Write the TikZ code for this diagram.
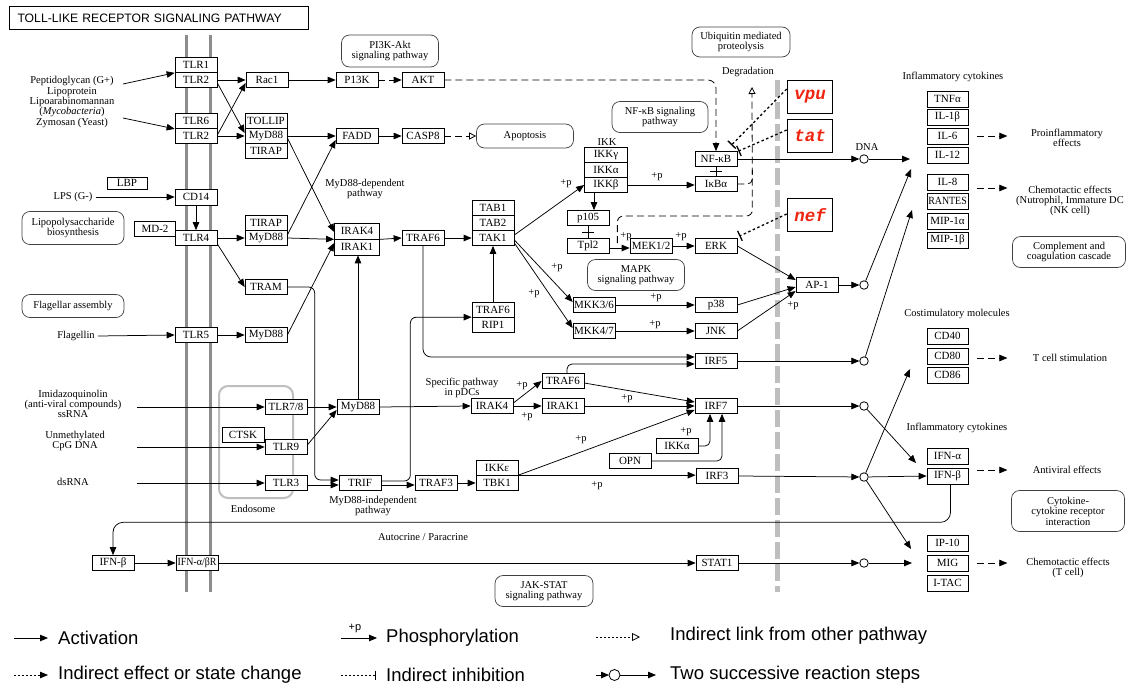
\documentclass[tikz,border=0pt]{standalone}
\usepackage{fontspec}
\usepackage{graphicx}
\setmainfont{Liberation Serif}
\newfontfamily\legendfont{Liberation Sans}
\newfontfamily\virusfont{Liberation Mono}
\usetikzlibrary{arrows.meta}
\definecolor{virusred}{RGB}{238,36,16}
\definecolor{membranegray}{RGB}{140,140,140}
\definecolor{barriergray}{RGB}{190,190,190}
\newcommand{\genefont}{\fontsize{11}{11}\selectfont}
\newcommand{\labelfont}{\fontsize{10.5}{10.4}\selectfont}
\newcommand{\narrow}[1]{\scalebox{0.9}[1]{#1}}

\begin{document}
\begin{tikzpicture}[x=1pt, y=-1pt, every node/.style={font=\labelfont, align=center},
    gene/.style={draw, fill=white, line width=0.7pt, minimum width=42pt, minimum height=15pt, inner sep=0pt, font=\genefont},
    cyto/.style={gene, minimum width=41pt, minimum height=16pt},
    pathbox/.style={draw=black!75, fill=white, line width=0.7pt, rounded corners=8pt, inner sep=0pt},
    virus/.style={draw, line width=1.6pt, minimum width=45pt, minimum height=33pt, inner sep=0pt, text=virusred, font=\virusfont\fontsize{17.5}{17.5}\selectfont\bfseries\itshape},
    twostep/.style={circle, draw, fill=white, line width=0.8pt, minimum size=8.5pt, inner sep=0pt},
    act/.style={line width=0.75pt, -{Triangle[length=8pt,width=6.5pt]}},
    indir/.style={act, dash pattern=on 7pt off 4pt},
    link/.style={line width=0.8pt, dash pattern=on 7pt off 4pt, -{Triangle[open,length=7pt,width=7pt]}},
    inhib/.style={line width=1.3pt, dash pattern=on 2.5pt off 2.5pt, -{Bar[width=11pt]}},
    dashline/.style={line width=0.8pt, dash pattern=on 7pt off 4pt},
    legendtext/.style={anchor=west, inner sep=0pt, font=\legendfont\fontsize{18.5}{18.5}\selectfont}]

\useasboundingbox (0,0) rectangle (1131,688);

% membrane, endosome and nuclear border
\draw[membranegray, line width=3pt] (186,35) -- (186,592);
\draw[membranegray, line width=3pt] (210,35) -- (210,592);
\draw[barriergray, line width=5pt, dash pattern=on 17pt off 5pt] (777,80) -- (777,592);
\draw[barriergray, line width=2pt, rounded corners=9pt] (219,386) rectangle (293,498);

\node[draw, line width=1pt, anchor=north west, minimum width=299pt, minimum height=23pt,
      inner xsep=8pt, text width=283pt, align=left, font=\legendfont\fontsize{12.2}{12.2}\selectfont] (title) at (9,6) {TOLL-LIKE RECEPTOR SIGNALING PATHWAY};

% linked pathways
\node[pathbox, minimum width=97pt, minimum height=32pt] (pikpath) at (390,51) {PI3K-Akt\\signaling pathway};
\node[pathbox, minimum width=98pt, minimum height=30pt] (ubqpath) at (741,42) {Ubiquitin mediated\\proteolysis};
\node[pathbox, minimum width=96pt, minimum height=31pt] (nfkbpath) at (660,117) {NF-κB signaling\\pathway};
\node[pathbox, minimum width=97pt, minimum height=24pt] (apop) at (525,136) {Apoptosis};
\node[pathbox, minimum width=97pt, minimum height=31pt] (mapkpath) at (636,275) {MAPK\\signaling pathway};
\node[pathbox, minimum width=113pt, minimum height=31pt] (compath) at (1069,252) {Complement and\\coagulation cascade};
\node[pathbox, minimum width=113pt, minimum height=41pt] (ccrpath) at (1068,511) {Cytokine-\\cytokine receptor\\interaction};
\node[pathbox, minimum width=98pt, minimum height=31pt] (jakpath) at (544,591) {JAK-STAT\\signaling pathway};
\node[pathbox, minimum width=102pt, minimum height=33pt] (lpspath) at (73,228) {Lipopolysaccharide\\biosynthesis};
\node[pathbox, minimum width=102pt, minimum height=23pt] (flapath) at (73,306) {Flagellar assembly};

% ligands
\node (pep) at (72,102) {Peptidoglycan (G+)\\Lipoprotein\\Lipoarabinomannan\\(\textit{Mycobacteria})\\Zymosan (Yeast)};
\node (lps) at (73,197) {LPS (G-)};
\node (flag) at (76,336) {Flagellin};
\node (ssrna) at (73,404) {Imidazoquinolin\\(anti-viral compounds)\\ssRNA};
\node (cpg) at (75,441) {Unmethylated\\CpG DNA};
\node (dsrna) at (73,482) {dsRNA};
\coordinate (pepA) at (123,84);
\coordinate (pepB) at (123,118);
\coordinate (ssIn) at (137,407);
\coordinate (cpgIn) at (137,447);
\coordinate (dsIn) at (137,483);

% receptors at the membrane
\node[gene] (tlrA) at (196,65) {TLR1};
\node[gene] (tlrB) at (196,80) {TLR2};
\node[gene] (tlrC) at (196,121) {TLR6};
\node[gene] (tlrD) at (196,136) {TLR2};
\node[gene, minimum width=40pt, minimum height=12pt] (lbp) at (127,183) {LBP};
\node[gene, minimum height=16pt] (cd14) at (196,197) {CD14};
\node[gene, minimum width=41pt] (md2) at (155,229) {MD-2};
\node[gene] (tlr4) at (196,238) {TLR4};
\node[gene] (tlr5) at (196,335) {TLR5};
\node[gene] (tlr78) at (286,407) {TLR7/8};
\node[gene] (ctsk) at (243,435) {CTSK};
\node[gene] (tlr9) at (286,447) {TLR9};
\node[gene] (tlr3) at (286,483) {TLR3};
\node[gene] (ifnb) at (113,563) {IFN-β};
\node[gene] (ifnr) at (197,563) {\narrow{IFN-α/βR}};

% adaptors and kinases
\node[gene] (rac1) at (267,80) {Rac1};
\node[gene] (tollip) at (266,121) {TOLLIP};
\node[gene] (myd88a) at (266,136) {MyD88};
\node[gene] (tirapA) at (266,151) {TIRAP};
\node[gene] (tirapB) at (266,223) {TIRAP};
\node[gene] (myd88b) at (266,238) {MyD88};
\node[gene] (tram) at (266,287) {TRAM};
\node[gene] (myd88c) at (266,335) {MyD88};
\node[gene] (myd88d) at (358,407) {MyD88};
\node[gene] (trif) at (360,483) {TRIF};
\node[gene] (pik3) at (357,80) {P13K};
\node[gene] (akt) at (423,80) {AKT};
\node[gene] (fadd) at (357,136) {FADD};
\node[gene] (casp8) at (423,136) {CASP8};
\node[gene, minimum width=45pt, minimum height=16pt] (irak4) at (357,231) {IRAK4};
\node[gene, minimum width=45pt, minimum height=16pt] (irak1) at (357,247) {IRAK1};
\node[gene] (traf6a) at (423,238) {TRAF6};
\node[gene] (tab1) at (493,208) {TAB1};
\node[gene] (tab2) at (493,223) {TAB2};
\node[gene] (tak1) at (493,238) {TAK1};
\node[gene] (traf6b) at (493,310) {TRAF6};
\node[gene] (rip1) at (493,325) {RIP1};
\node (ikk) at (607,142) {IKK};
\node[gene, minimum width=43pt] (ikkg) at (606,155) {IKKγ};
\node[gene, minimum width=43pt] (ikka) at (606,170) {IKKα};
\node[gene, minimum width=43pt] (ikkb) at (606,185) {IKKβ};
\node[gene] (p105) at (588,218) {p105};
\node[gene] (tpl2) at (588,246) {Tpl2};
\node[gene] (mek) at (651,246) {MEK1/2};
\node[gene] (erk) at (716,246) {ERK};
\node[gene] (nfkb) at (716,159) {NF-κB};
\node[gene] (ikba) at (716,184) {IκBα};
\node[gene] (mkk36) at (594,305) {MKK3/6};
\node[gene] (p38) at (716,305) {p38};
\node[gene] (mkk47) at (594,331) {MKK4/7};
\node[gene] (jnk) at (716,331) {JNK};
\node[gene] (ap1) at (817,285) {AP-1};
\node[gene] (irf5) at (716,361) {IRF5};
\node[gene] (traf6c) at (563,381) {TRAF6};
\node[gene] (irak4b) at (492,406) {IRAK4};
\node[gene] (irak1b) at (563,406) {IRAK1};
\node[gene] (irf7) at (716,406) {IRF7};
\node[gene] (ikkab) at (677,446) {IKKα};
\node[gene] (opn) at (630,461) {OPN};
\node[gene] (ikke) at (497,468) {IKKε};
\node[gene] (tbk1) at (497,483) {TBK1};
\node[gene] (traf3) at (436,483) {TRAF3};
\node[gene] (irf3) at (717,476) {IRF3};
\node[gene] (stat1) at (717,563) {STAT1};

% HIV proteins
\node[virus] (vpu) at (810,97) {vpu};
\node[virus] (tat) at (810,136) {tat};
\node[virus] (nef) at (810,215) {nef};

% secreted products
\foreach \nm/\txt/\y in {tnfa/TNFα/99, il1b/IL-1β/117, il6/IL-6/136, il12/IL-12/155,
    il8/IL-8/182, rantes/\narrow{RANTES}/201, mipa/MIP-1α/221, mipb/MIP-1β/240,
    cd40/CD40/336, cd80/CD80/356, cd86/CD86/375, ifna/IFN-α/456, ifnbR/IFN-β/476,
    ip10/IP-10/543, mig/MIG/563, itac/I-TAC/583}
  \node[cyto] (\nm) at (947.5,\y) {\txt};

\foreach \nm/\y in {cdna/159, cap1/285, cirf5/361, cirf7/406, cirf3/477, cstat/563}
  \node[twostep] (\nm) at (864,\y) {};
\coordinate (toInflA) at (910,159);
\coordinate (toInflB) at (911,169);
\coordinate (toInflC) at (912,210);
\coordinate (toIfna) at (916,463);
\coordinate (toCostim) at (910,369);
\coordinate (toChemoA) at (911,549);
\coordinate (toChemoB) at (912,563);

% labels
\node (dna) at (867,147) {DNA};
\node (degtxt) at (748,72) {Degradation};
\node (mydep) at (365,189) {MyD88-dependent\\pathway};
\node (myindep) at (373,506) {MyD88-independent\\pathway};
\node (pdc) at (462,388) {Specific pathway\\in pDCs};
\node (endo) at (253,509) {Endosome};
\node (autop) at (423,537) {Autocrine / Paracrine};
\node (inflA) at (953,77) {Inflammatory cytokines};
\node (inflB) at (957,428) {Inflammatory cytokines};
\node (costim) at (957,314) {Costimulatory molecules};
\node (proinf) at (1067,138) {Proinflammatory\\effects};
\node (chemoA) at (1070,201) {Chemotactic effects\\(Nutrophil, Immature DC\\(NK cell)};
\node (tcell) at (1070,358) {T cell stimulation};
\node (antiv) at (1067,470) {Antiviral effects};
\node (chemoB) at (1068,568) {Chemotactic effects\\(T cell)};

\foreach \x/\y [count=\i] in {566/184, 657/177, 626/237, 681/237, 557/268, 534/294, 656/298, 655/325,
    793/306, 522/386, 527/417, 627/399, 686/432, 581/440, 597/486}
  \node[inner sep=0pt] (phos\i) at (\x,\y) {+p};

% ligands to receptors
\draw[act] (pepA) -- (tlrA.south west);
\draw[act] (pepB) -- (tlrC.south west);
\draw[act] (lps.east) -- (cd14.west);
\draw[act] (cd14.south) -- (tlr4.north);
\draw[act] (flag.east) -- (tlr5.west);
\draw[act] (ssIn) -- (tlr78.west);
\draw[act] (cpgIn) -- (tlr9.west);
\draw[act] (dsIn) -- (tlr3.west);

% MyD88-dependent branch
\draw[act] (tlrB.east) -- (rac1.west);
\draw[act] ([yshift=-3pt]tlrB.east) -- ([yshift=3pt]myd88a.west);
\draw[act] ([yshift=1pt]tlrD.east) -- ([yshift=-3pt]rac1.west);
\draw[act] (tlrD.east) -- (myd88a.west);
\draw[act] (rac1.east) -- (pik3.west);
\draw[indir] (pik3.east) -- (akt.west);
\draw[indir, rounded corners=8pt] (akt.east) -| (nfkb.north);
\draw[act] (myd88a.east) -- (fadd.west);
\draw[act] (fadd.east) -- (casp8.west);
\draw[link] (casp8.east) -- (apop.west);
\draw[act] ([yshift=-2pt]myd88a.east) -- ([yshift=-1pt]irak4.west);
\draw[act] ([yshift=3pt]myd88b.east) -- ([yshift=-4pt]fadd.west);
\draw[act] (tlr4.east) -- (myd88b.west);
\draw[act] ([yshift=-6pt]tlr4.east) -- (tram.west);
\draw[act] (myd88b.east) -- (irak4.south west);
\draw[act] (tlr5.east) -- (myd88c.west);
\draw[act] (myd88c.east) -- ([yshift=4pt]irak1.west);

% endosomal receptors and TRIF
\draw[act, rounded corners=6pt] (tram.east) -| ([xshift=-24pt,yshift=3pt]trif.west) -- ([yshift=3pt]trif.west);
\draw[act] ([yshift=-2pt]tlr3.east) -- ([yshift=-2pt]trif.west);
\draw[act] (tlr78.east) -- (myd88d.west);
\draw[act] ([yshift=2pt]tlr9.east) -- ([yshift=-3pt]myd88d.west);
\draw[act] (myd88d.north) -- (myd88d.north |- irak1.south);
\draw[act] (myd88d.east) -- (irak4b.west);
\draw[act] (irak4.south east) -- (traf6a.west);
\draw[act] (traf6a.east) -- (tak1.west);
\draw[act] (traf6b.north) -- (tak1.south);
\draw[act, rounded corners=8pt] (traf6a.south) |- ([yshift=4pt]irf5.west);
\draw[act, rounded corners=6pt] ([yshift=2pt]trif.east) -- ++(29,0) |- (rip1.north west);
\draw[act] ([yshift=-2pt]trif.east) -- ([yshift=-2pt]traf3.west);
\draw[act] (traf3.east) -- (tbk1.west);

% TAK1 to kinases
\draw[act] ([yshift=3pt]tak1.east) -- (ikkb.west);
\draw[act] ([yshift=-2pt]tak1.east) -- ([yshift=3pt]mkk36.west);
\draw[act] ([yshift=-5pt]tak1.east) -- ([yshift=3pt]mkk47.west);
\draw[act] ([xshift=-12pt]ikkb.south) -- ([xshift=-12pt]ikkb.south |- p105.north);
\draw[act] (ikkb.east) -- (ikkb.east -| ikba.west);
\draw[line width=0.7pt] (p105.south) -- (tpl2.north) coordinate[midway] (bindA);
\draw[line width=0.7pt] ([xshift=-6pt]bindA) -- ([xshift=6pt]bindA);
\draw[line width=0.7pt] (nfkb.south) -- (ikba.north) coordinate[midway] (bindB);
\draw[line width=0.7pt] ([xshift=-6pt]bindB) -- ([xshift=6pt]bindB);
\draw[act] ([yshift=-2pt]tpl2.east) -- ([yshift=-2pt]mek.west);
\draw[act] (mek.east) -- (erk.west);
\draw[act] (mkk36.east) -- (p38.west);
\draw[act] (mkk47.east) -- (jnk.west);

% degradation
\coordinate (degr) at (752,87);
\draw[link, rounded corners=6pt] ([xshift=8pt,yshift=3pt]tpl2.east) -- ++(0,-27) -- ++(135,0) -- (degr);
\draw[dashline, rounded corners=5pt] (ikba.east) -- ++(15,0) -- ++(0,-14);

% viral inhibitors
\draw[inhib] ([yshift=8pt]vpu.west) -- ([xshift=-6pt,yshift=6pt]nfkb.north east);
\draw[inhib] ([yshift=6pt]tat.west) -- ([xshift=1pt]nfkb.north east);
\draw[inhib] ([yshift=1pt]nef.west) -- ([xshift=2pt,yshift=2pt]erk.north east);

% pDC branch and IRFs
\draw[act] ([yshift=3pt]irak4b.east) -- (traf6c.west);
\draw[act] (irak4b.east) -- (irak1b.west);
\draw[act] ([yshift=-2pt]traf6c.east) -- ([yshift=4pt]irf7.west);
\draw[act] (irak1b.east) -- (irf7.west);
\draw[act, rounded corners=5pt] ([xshift=4pt]traf6c.north) |- ([yshift=-3pt]irf5.west);
\draw[act] (tbk1.north east) -- ([yshift=-4pt]irf7.west);
\draw[act] (tbk1.north east) -- (tbk1.north east -| irf3.west);
\draw[act, rounded corners=5pt] (ikkab.east) -| ([xshift=-6pt]irf7.south);
\draw[act, rounded corners=5pt] (opn.east) -| ([xshift=6pt]irf7.south);

% transcription factors to outputs
\draw[act] (nfkb.east) -- (cdna);
\draw[act] (cdna) -- (toInflA);
\draw[act] (erk.east) -- ([yshift=5pt]ap1.west);
\draw[act] (p38.east) -- ([yshift=-2pt]ap1.west);
\draw[act] (jnk.east) -- ([yshift=-6pt]ap1.west);
\draw[act] (ap1.east) -- (cap1);
\draw[act] (cap1) -- (toInflB);
\draw[act] (irf5.east) -- (cirf5);
\draw[act] (cirf5) -- (toInflC);
\draw[act] (irf7.east) -- (cirf7);
\draw[act] (cirf7) -- (toIfna);
\draw[act] (irf3.east) -- (cirf3);
\draw[act] (cirf3) -- (ifnbR.west);
\draw[act] (cirf3) -- (toCostim);
\draw[act] (cirf3) -- (toChemoA);
\draw[act] (stat1.east) -- (cstat);
\draw[act] (cstat) -- (toChemoB);
\draw[act, rounded corners=10pt] ([xshift=3pt]ifnbR.south) -- ++(0,38) -| (ifnb.north);
\draw[act] (ifnb.east) -- (ifnr.west);
\draw[act] (ifnr.east) -- (stat1.west);

% effects
\draw[indir] ([xshift=9pt]il6.east) -- ++(30,0);
\draw[indir] ([xshift=9pt,yshift=-6pt]il8.east) -- ++(30,0);
\draw[indir] ([xshift=9pt,yshift=-2pt]cd80.east) -- ++(30,0);
\draw[indir] ([xshift=9pt,yshift=6pt]ifnbR.east) -- ++(30,0);
\draw[indir] ([xshift=9pt]mig.east) -- ++(30,0);

% legend
\draw[act] (14,638) -- (48,638);
\node[legendtext] (lgA) at (58,638) {Activation};
\draw[act] (341,638) -- (377,638);
\node[inner sep=0pt, font=\legendfont\fontsize{11}{11}\selectfont] (lgP) at (355,628) {+p};
\node[legendtext] (lgB) at (386,638) {Phosphorylation};
\draw[line width=0.8pt, dash pattern=on 2pt off 2pt, -{Triangle[open,length=8pt,width=8pt]}] (596,637) -- (640,637);
\node[legendtext] (lgC) at (670,636) {Indirect link from other pathway};
\draw[act, dash pattern=on 2pt off 2pt] (14,675) -- (48,675);
\node[legendtext] (lgD) at (58,675) {Indirect effect or state change};
\draw[line width=0.8pt, dash pattern=on 2pt off 2pt, -{Bar[width=9pt]}] (341,675) -- (376,675);
\node[legendtext] (lgE) at (386,675) {Indirect inhibition};
\draw[act] (596,675) -- (609,675);
\draw[line width=0.8pt] (614.5,675) circle (5.5pt);
\draw[act] (620,675) -- (656,675);
\node[legendtext] (lgF) at (670,675) {Two successive reaction steps};
\end{tikzpicture}
\end{document}
